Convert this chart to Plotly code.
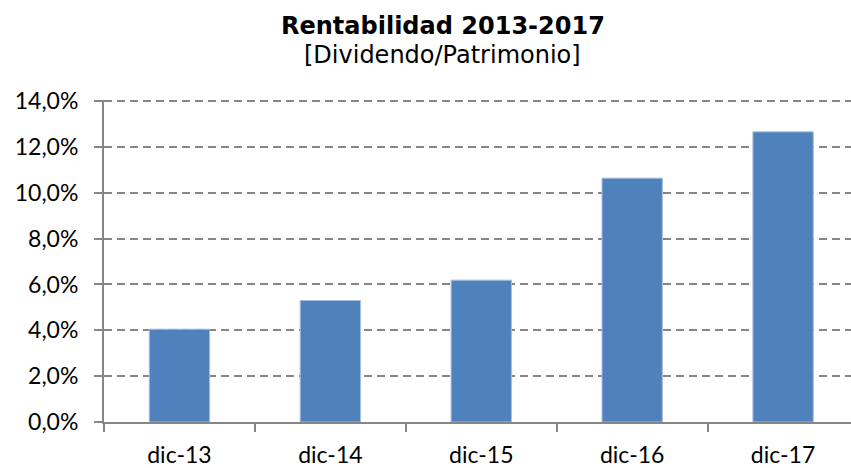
import plotly.graph_objects as go

categories = ["dic-13", "dic-14", "dic-15", "dic-16", "dic-17"]
rentabilidad = [0.0405, 0.0530, 0.0619, 0.1064, 0.1266]

title_text = "Rentabilidad 2013-2017"
subtitle_text = "[Dividendo/Patrimonio]"

BAR = "#4F81BD"
AXIS = "#868686"

fig = go.Figure()
fig.add_trace(go.Bar(
    x=categories, y=rentabilidad, width=0.4,
    marker=dict(color=BAR, line=dict(color="#A7BFDE", width=1)),
    hoverinfo="x+y",
))

fig.update_layout(
    width=851, height=468,
    margin=dict(l=104, r=0, t=100, b=46),
    paper_bgcolor="white", plot_bgcolor="white",
    separators=",.",
    showlegend=False,
    font=dict(family="Lato, Open Sans, sans-serif", color="#000000"),
)
fig.update_xaxes(
    range=[-0.5, 4.45], automargin=False,
    showline=True, linecolor=AXIS, linewidth=2,
    ticks="outside", tickson="boundaries", ticklen=8, tickcolor=AXIS, tickwidth=2,
    ticklabelstandoff=11,
    tickfont=dict(family="Lato, sans-serif", size=23, color="#000000"),
    showgrid=False, zeroline=False,
)
fig.update_yaxes(
    range=[0, 0.1405], tickvals=[0, 0.02, 0.04, 0.06, 0.08, 0.10, 0.12, 0.14],
    tickformat=".1%", automargin=False,
    showline=True, linecolor=AXIS, linewidth=2,
    ticks="outside", ticklen=8, tickcolor=AXIS, tickwidth=2,
    ticklabelstandoff=11,
    tickfont=dict(family="Lato, sans-serif", size=23, color="#000000"),
    showgrid=True, gridcolor=AXIS, gridwidth=2, griddash="8px,5px",
    zeroline=False,
)

fig.add_annotation(
    text="<b>" + title_text + "</b>", xref="paper", yref="paper",
    x=(443 - 104) / 747, y=(422 - 26) / 322, xanchor="center", yanchor="middle",
    showarrow=False, font=dict(family="DejaVu Sans", size=24, color="#000000"),
)
fig.add_annotation(
    text=subtitle_text, xref="paper", yref="paper",
    x=(442 - 104) / 747, y=(422 - 55) / 322, xanchor="center", yanchor="middle",
    showarrow=False, font=dict(family="DejaVu Sans", size=24, color="#000000"),
)

fig.write_html("out.html", config={"displayModeBar": False},
               post_script="document.body.style.margin='0';")
